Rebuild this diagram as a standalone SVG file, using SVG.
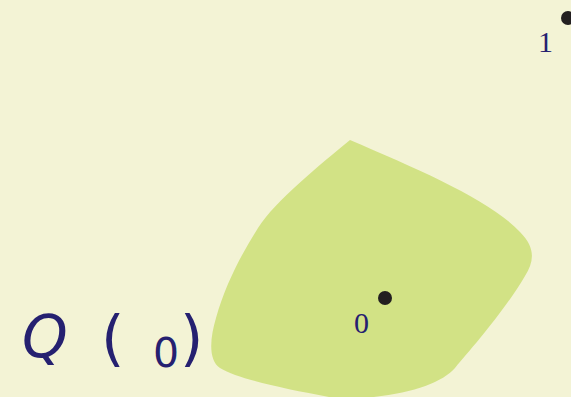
<svg xmlns="http://www.w3.org/2000/svg" width="571" height="397" viewBox="0 0 571 397">
<style>
.math{fill:#252070;font-family:"DejaVu Sans",sans-serif}
.lbl{fill:#252070;font-family:"Liberation Serif",serif;font-size:30px}
.pt{fill:#231f20}
</style>
<rect width="571" height="397" fill="#f3f3d5"/>
<g id="region">
<path d="M350,140 C420,170 490,200 520,232 C536,248 534,262 525,276 C505,310 472,348 455,368 C440,385 400,398 340,399 C290,390 240,380 220,368 C208,360 210,338 216,318 C226,282 244,250 258,228 C276,200 320,165 350,140 Z" fill="#d2e285"/>
</g>
<g id="p0">
<circle class="pt" cx="385" cy="298" r="7"/>
<text class="lbl" x="354" y="333">0</text>
</g>
<g id="p1">
<circle class="pt" cx="568" cy="18" r="7"/>
<text class="lbl" x="538" y="52">1</text>
</g>
<g id="formula">
<text class="math" x="22" y="357" font-size="58" font-style="italic">Q</text>
<text class="math" x="101" y="359" font-size="60">(</text>
<text class="math" x="153" y="367" font-size="41" font-family="Liberation Sans, sans-serif">0</text>
<text class="math" x="180" y="359" font-size="60">)</text>
</g>
</svg>
